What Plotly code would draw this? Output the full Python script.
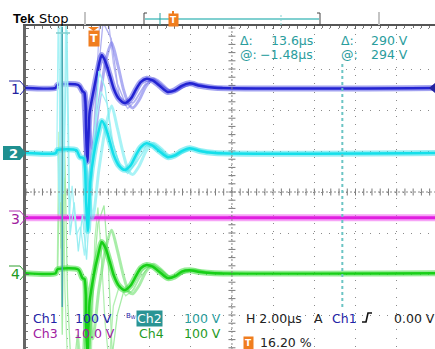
import plotly.graph_objects as go

# ---------------- data ----------------
US_PER_DIV = 2.0          # H 2.00 µs
TRIG_PCT = 16.20          # trigger position in record
X_DIVS_VISIBLE = 9.93     # graticule is cropped slightly on the right
T_LEFT = -TRIG_PCT / 100 * 10 * US_PER_DIV
T_RIGHT = T_LEFT + X_DIVS_VISIBLE * US_PER_DIV
Y_TOP, Y_BOT = 4.049, -3.829   # visible vertical span in divisions

CH_SCALE = {1: 100.0, 2: 100.0, 3: 10.0, 4: 100.0}    # V/div
CH_POS = {1: 2.54, 2: 0.95, 3: -0.63, 4: -1.98}       # div

CURSOR_T1 = -1.48     # µs
CURSOR_DT = 13.6      # µs

# Ch1
CH1_MAIN_T = [-3.25, -1.80, -1.72, -0.70, -0.50, -0.40, -0.32, -0.26, -0.15, 0.05, 0.25, 0.44, 0.63, 0.83, 1.02,
              1.26, 1.55, 1.84, 2.09, 2.33, 2.62, 2.91, 3.25, 3.64, 3.98, 4.32, 4.71, 5.19, 5.92, 16.7]
CH1_MAIN_V = [0, 0, 7, 7, -8, -12, -110, -180, -61, -5, 45, 80, 62, 30, -2,
              -26, -37, -27, -5, 14, 22, 18, 5, -10, -6, 5, 11, 5, 0, 0]
CH1_GHOST_T = [-0.45, -0.20, 0.0, 0.30, 0.65, 0.92, 1.20, 1.50, 1.75, 1.95, 2.25, 2.60, 2.96, 3.30, 3.75, 4.10,
               4.50, 4.90, 5.50, 6.30]
CH1_GHOST_V = [-10, -80, -150, -40, 70, 110, 60, -5, -40, -49, -30, 5, 22, 12, -8, -5, 6, 10, 3, 0]
CH1_B1_T = [-0.60, -0.45, -0.24, 0.05, 0.35, 0.75, 1.00, 1.30, 1.70, 2.10, 2.60, 3.00, 3.50, 4.00, 4.50, 5.00, 5.60, 6.50]
CH1_B1_V = [7, -10, -255, -100, 170, 170, 60, -20, -50, -30, 15, 20, -2, -10, 5, 10, 2, 0]
CH1_B2_T = [-0.55, -0.35, -0.10, 0.20, 0.50, 0.90, 1.20, 1.60, 2.00, 2.50, 2.90, 3.40, 3.90, 4.40, 4.90, 5.60, 6.50]
CH1_B2_V = [5, -200, -260, 0, 160, 120, 10, -40, -35, 5, 20, 5, -10, 2, 10, 3, 0]

# Ch2
CH2_MAIN_T = [-3.25, -1.80, -1.72, -0.80, -0.62, -0.45, -0.32, -0.24, -0.12, 0.05, 0.25, 0.44, 0.63, 0.83, 1.02,
              1.26, 1.55, 1.84, 2.09, 2.33, 2.62, 2.91, 3.25, 3.64, 3.98, 4.32, 4.71, 5.19, 5.92, 16.7]
CH2_MAIN_V = [0, 0, 7, 7, -10, -12, -120, -190, -70, -5, 45, 78, 62, 28, -5,
              -30, -41, -30, -6, 14, 24, 18, 4, -10, -6, 5, 12, 5, 0, 0]
CH2_GHOST_T = CH1_GHOST_T
CH2_GHOST_V = [-10, -80, -160, -40, 70, 115, 60, -5, -45, -52, -32, 5, 24, 12, -8, -5, 6, 11, 3, 0]
CH2_B1_T = [-1.80, -1.74, -1.66, -1.58, -1.50, -1.40, -1.30, -1.15, -1.00, -0.80, -0.60, -0.40, -0.20, 0.10, 0.40,
            0.70, 1.00, 1.40, 1.80, 2.20, 2.70, 3.20, 3.70, 4.20, 4.80, 5.60]
CH2_B1_V = [0, 7, 420, -120, 400, -60, 380, -150, -80, -200, -180, -250, -120, 60, 150,
            120, 20, -40, -45, -15, 20, 15, -10, 0, 10, 0]
CH2_B2_T = [-1.70, -1.62, -1.52, -1.42, -1.25, -1.10, -0.90, -0.70, -0.50, -0.30, -0.05, 0.30, 0.60, 0.90, 1.30,
            1.70, 2.10, 2.60, 3.10, 3.60, 4.20, 4.80, 5.60]
CH2_B2_V = [7, -150, 420, -100, 300, -200, -120, -240, -150, -260, -60, 200, 160, 40, -30,
            -50, -25, 18, 18, -8, -2, 10, 0]

# Ch3
CH3_T = [-3.25, 16.7]
CH3_V = [0.0, 0.0]

# Ch4
CH4_MAIN_T = CH1_MAIN_T
CH4_MAIN_V = [0, 0, 9, 9, -12, -14, -130, -200, -70, -5, 42, 76, 60, 28, -5,
              -30, -41, -30, -8, 12, 20, 16, 3, -12, -8, 4, 7, 3, 0, 0]
CH4_GHOST_T = CH1_GHOST_T
CH4_GHOST_V = [-12, -85, -160, -40, 65, 105, 55, -8, -45, -50, -30, 5, 22, 10, -10, -6, 5, 8, 2, 0]
CH4_B1_T = [-1.80, -1.72, -1.64, -1.55, -1.45, -1.35, -1.20, -1.05, -0.90, -0.70, -0.50, -0.30, -0.10, 0.10, 0.25,
            0.40, 0.60, 0.80, 1.00, 1.30, 1.60, 2.00, 2.40, 2.80, 3.30, 3.80, 4.30, 4.90, 5.60]
CH4_B1_V = [0, 9, 345, 60, 330, -40, -250, -200, -300, -150, -250, -80, -250, 80, 160,
            60, -120, -220, -80, -30, -55, -40, 5, 22, 8, -12, -2, 8, 0]
CH4_B2_T = [-1.70, -1.60, -1.48, -1.36, -1.22, -1.00, -0.75, -0.55, -0.35, -0.15, 0.05, 0.25, 0.55, 0.75, 0.95,
            1.20, 1.50, 1.90, 2.30, 2.80, 3.30, 3.80, 4.40, 5.00, 5.80]
CH4_B2_V = [9, 280, -150, 300, -60, -280, -150, -260, -60, -200, 0, 120, 165, 30, -200,
            -100, -45, -45, -10, 20, 10, -12, 0, 9, 0]

# ---------------- figure ----------------
W, H = 435, 349
PL, PT = 26, 26          # graticule's left / top edge in the window
FONT = "DejaVu Sans"


def px(x):
    return x / W


def py(y):
    return (H - y) / H


def yv(ch, vals):
    return [CH_POS[ch] + v / CH_SCALE[ch] for v in vals]


fig = go.Figure()


def add(ch, t, v, color, width, shape="linear"):
    fig.add_trace(go.Scatter(x=t, y=yv(ch, v), mode="lines",
                             line=dict(color=color, width=width, shape=shape, smoothing=0.7),
                             hoverinfo="skip", showlegend=False))


# graticule centre-line tick marks
xc = T_LEFT + 5 * US_PER_DIV
n_x = int(round((T_RIGHT - T_LEFT) / (US_PER_DIV / 5))) + 1
fig.add_trace(go.Scatter(x=[T_LEFT + k * US_PER_DIV / 5 for k in range(n_x)], y=[0] * n_x, mode="markers",
                         marker=dict(symbol="line-ns", size=5, line=dict(color="#7a7a7a", width=1)),
                         hoverinfo="skip", showlegend=False))
ys = [k * 0.2 for k in range(-19, 21)]
fig.add_trace(go.Scatter(x=[xc] * len(ys), y=ys, mode="markers",
                         marker=dict(symbol="line-ew", size=5, line=dict(color="#7a7a7a", width=1)),
                         hoverinfo="skip", showlegend=False))

# bursts (persistence)
add(4, CH4_B1_T, CH4_B1_V, "#b4f0b4", 1.3)
add(4, CH4_B2_T, CH4_B2_V, "#a6eca6", 1.3)
add(4, CH4_GHOST_T, CH4_GHOST_V, "rgba(110,225,110,0.6)", 3, "spline")
add(4, CH4_MAIN_T, CH4_MAIN_V, "rgba(60,220,60,0.55)", 6, "spline")
add(4, CH4_MAIN_T, CH4_MAIN_V, "#17cf17", 2.5, "spline")

add(3, CH3_T, CH3_V, "rgba(240,90,240,0.55)", 7)
add(3, CH3_T, CH3_V, "#e01ee0", 3)

add(1, CH1_B1_T, CH1_B1_V, "#bcbcf4", 1.3)
add(1, CH1_B2_T, CH1_B2_V, "#b0b0f0", 1.3)
add(1, CH1_GHOST_T, CH1_GHOST_V, "rgba(120,120,235,0.6)", 3, "spline")
add(1, CH1_MAIN_T, CH1_MAIN_V, "rgba(70,70,225,0.5)", 6, "spline")
add(1, CH1_MAIN_T, CH1_MAIN_V, "#2323d2", 2.5, "spline")

add(2, CH2_B1_T, CH2_B1_V, "#a8f2f6", 1.3)
add(2, CH2_B2_T, CH2_B2_V, "#9aeef2", 1.3)
add(2, CH2_GHOST_T, CH2_GHOST_V, "rgba(110,235,240,0.6)", 3, "spline")
add(2, CH2_MAIN_T, CH2_MAIN_V, "rgba(60,225,235,0.55)", 6, "spline")
add(2, CH2_MAIN_T, CH2_MAIN_V, "#14dfea", 2.5, "spline")

shapes = []
ann = []


def pline(x0, y0, x1, y1, color, width=1, dash="solid"):
    shapes.append(dict(type="line", xref="paper", yref="paper", x0=px(x0), x1=px(x1), y0=py(y0), y1=py(y1),
                       line=dict(color=color, width=width, dash=dash)))


def ppath(pts, color=None, fill=None, width=1, close=False):
    d = " ".join(("M" if i == 0 else "L") + f" {px(x)},{py(y)}" for i, (x, y) in enumerate(pts))
    if close:
        d += " Z"
    s = dict(type="path", xref="paper", yref="paper", path=d,
             line=dict(color=color or "rgba(0,0,0,0)", width=width if color else 0))
    if fill:
        s["fillcolor"] = fill
    shapes.append(s)


def text(x, y, t, color, size=12.5, anchor="left", family=FONT, **kw):
    d = dict(x=px(x), y=py(y), xanchor=anchor, yanchor="middle", text=t, xref="paper", yref="paper",
             showarrow=False, font=dict(family=family, size=size, color=color))
    d.update(kw)
    ann.append(d)


# centre lines of the graticule
shapes.append(dict(type="line", xref="x", yref="y", x0=xc, x1=xc, y0=Y_BOT, y1=Y_TOP,
                   line=dict(color="#8a8a8a", width=1, dash="2px,2px")))
shapes.append(dict(type="line", xref="x", yref="y", x0=T_LEFT, x1=T_RIGHT, y0=0, y1=0,
                   line=dict(color="#8a8a8a", width=1, dash="2px,2px")))

# cursors
c1 = CURSOR_T1
c2 = CURSOR_T1 + CURSOR_DT
shapes.append(dict(type="line", xref="x", yref="paper", x0=c1, x1=c1, y0=py(307), y1=py(27),
                   line=dict(color="#4aa6b0", width=1.5)))
pline(56, 33, 70, 33, "#80cccc", 1.5)
shapes.append(dict(type="line", xref="x", yref="paper", x0=c2, x1=c2, y0=py(307), y1=py(62),
                   line=dict(color="#6cc4c4", width=2, dash="3px,3px")))

ORANGE = "#f07d1e"
# trigger marker (below top border)
ppath([(88, 27), (99, 27), (93.5, 31)], fill=ORANGE, close=True)
text(93.5, 38, "<b>T</b>", "white", size=11, anchor="center", bgcolor=ORANGE, borderpad=1)

# trigger level marker (right edge)
ppath([(435, 83), (429, 88), (435, 93)], fill="#2323a0", close=True)


# channel markers on the left
def chev(y, color):
    ppath([(9, y - 7), (20, y - 7), (26, y), (20, y + 7)], color=color, width=1)


chev(88, "#2323a0")
text(15, 89, "1", "#2323a0", size=14, anchor="center")
ppath([(3, 146), (20, 146), (26, 153), (20, 160), (3, 160)], fill="#1f9090", close=True)
text(13, 153, "<b>2</b>", "white", size=13, anchor="center")
chev(218, "#b030b0")
text(15, 219, "3", "#a020a0", size=14, anchor="center")
chev(273, "#30a030")
text(15, 274, "4", "#209a20", size=14, anchor="center")

# top status bar
text(11, 18, "<b>Tek</b>", "black", size=13, family="Liberation Sans")
text(37, 18, "Stop", "black", size=13)
for sx in (85, 379):
    pline(sx, 25, sx, 12, "#c4c4c4", 2)
pline(145, 19, 319, 19, "#80d0d0", 2)
ppath([(147, 13), (144, 13), (144, 25), (147, 25)], color="#444", width=1)
ppath([(317, 13), (320, 13), (320, 25), (317, 25)], color="#444", width=1)
pline(160, 25, 160, 13, "#2aa0a0", 1)
pline(281, 25, 281, 13, "#80d0d0", 1, "2px,2px")
pline(173, 14, 173, 11, ORANGE, 2)
text(173, 19.5, "<b>T</b>", "white", size=9, anchor="center", bgcolor=ORANGE, borderpad=1)

# cursor readouts
TEAL = "#2a9d9d"
for (x, y, t, anc) in [(238, 41, "Δ:", "left"), (315, 41, f"{CURSOR_DT:.1f}μs", "right"),
                       (339, 41, "Δ:", "left"), (410, 41, "290 V", "right"),
                       (238, 54, "@:", "left"), (315, 54, f"−{abs(CURSOR_T1):.2f}μs", "right"),
                       (339, 54, "@:", "left"), (410, 54, "294 V", "right")]:
    text(x, y, t, TEAL, anchor=anc)

# bottom readouts
NAVY, PURP, GRN = "#2323a6", "#a020a0", "#1f9a1f"
for (x, y, t, c) in [(31, 318, "Ch1", NAVY), (73, 318, "100 V", NAVY), (182, 318, "100 V", TEAL),
                     (31, 333, "Ch3", PURP), (72, 333, "10.0 V", PURP), (137, 333, "Ch4", GRN),
                     (182, 333, "100 V", GRN),
                     (244, 318, "H 2.00μs", "#222"), (312, 318, "A", "#222"), (330, 318, "Ch1", NAVY),
                     (392, 318, "0.00 V", "#222"), (258, 342, "16.20 %", "#222")]:
    text(x, y, t, c)
text(149.5, 318.5, "Ch2", "white", anchor="center", bgcolor="#2a9494", borderpad=0)
text(131, 316, "B<sub>W</sub>", NAVY, size=7, anchor="center")
ppath([(362, 322), (366, 322), (368, 313), (372, 313)], color="#111", width=1.6)
text(248.5, 343, "<b>T</b>", "white", size=9, anchor="center", bgcolor=ORANGE, borderpad=1)

DOT = "1px,7.2px"
fig.update_layout(
    width=W, height=H, margin=dict(l=0, r=0, t=0, b=0),
    paper_bgcolor="white", plot_bgcolor="white",
    shapes=shapes, annotations=ann, showlegend=False,
    xaxis=dict(domain=[PL / W, 1], range=[T_LEFT, T_RIGHT], tick0=T_LEFT, dtick=US_PER_DIV,
               showticklabels=False,
               showgrid=True, gridcolor="#8a8a8a", gridwidth=1, griddash=DOT, zeroline=False,
               showline=True, linecolor="#555", linewidth=2, side="top",
               ticks="inside", ticklen=3, tickcolor="#666",
               minor=dict(dtick=US_PER_DIV / 5, tick0=T_LEFT, ticks="inside", ticklen=2, tickcolor="#777",
                          showgrid=False),
               fixedrange=True),
    yaxis=dict(domain=[0, (H - PT) / H], range=[Y_BOT, Y_TOP], tick0=0, dtick=1, showticklabels=False,
               showgrid=True, gridcolor="#8a8a8a", gridwidth=1, griddash=DOT, zeroline=False,
               showline=True, linecolor="#666", linewidth=3,
               ticks="inside", ticklen=3, tickcolor="#666",
               minor=dict(dtick=0.2, ticks="inside", ticklen=2, tickcolor="#777", showgrid=False),
               fixedrange=True),
)

fig.write_html("out.html", config={"displayModeBar": False, "staticPlot": True},
               post_script="document.body.style.margin='0';document.body.style.overflow='hidden';")
